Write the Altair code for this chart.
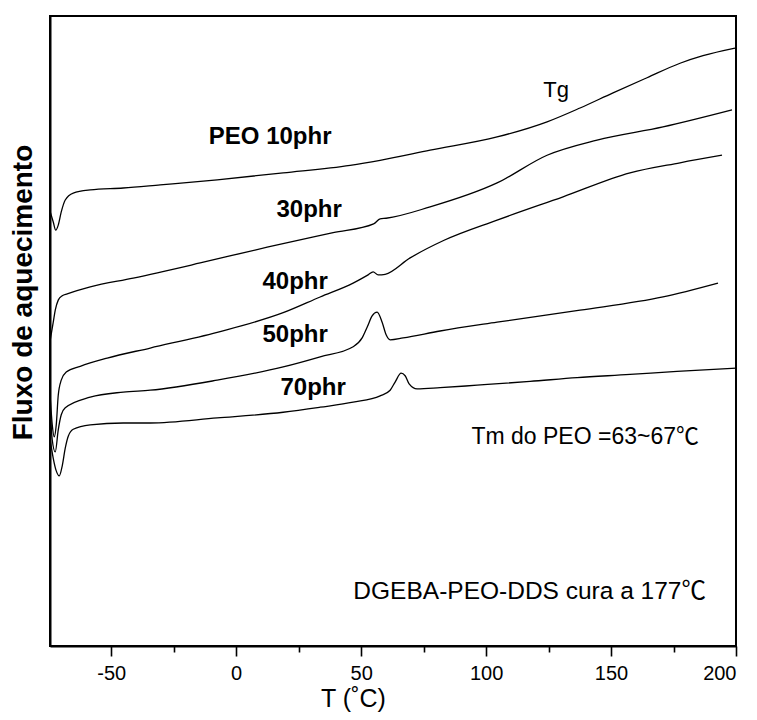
import altair as alt
import pandas as pd

# --- data (T in °C, heat flow in arbitrary units) ---
T_10 = [-74.4, -73.2, -72.2, -71.2, -70.0, -68.4, -65.2, -58.4, -45.2, -30.4, -7.6, 18.8, 45.6, 57.6, 77.6, 104.4, 124.4, 137.6, 150.8, 164.4, 177.6, 186.8, 199.6]
Y_10 = [68.9, 67.3, 66.0, 66.8, 68.9, 70.8, 71.9, 72.4, 72.7, 73.2, 74.0, 75.1, 76.3, 77.1, 78.7, 80.8, 83.2, 85.4, 87.8, 90.2, 92.5, 93.7, 94.9]

T_30 = [-74.4, -73.2, -72.4, -71.2, -69.6, -67.6, -58.4, -41.2, -14.4, 12.4, 38.8, 55.0, 57.6, 60.0, 77.6, 104.4, 124.4, 144.4, 170.8, 198.4]
Y_30 = [48.6, 51.4, 53.3, 54.9, 55.6, 55.9, 57.0, 58.4, 60.8, 63.3, 65.6, 67.0, 67.8, 67.9, 69.7, 73.5, 77.9, 80.3, 82.4, 85.1]

T_40 = [-74.4, -73.6, -72.8, -72.0, -71.2, -70.0, -68.0, -62.4, -51.6, -34.4, -7.6, 18.8, 33.6, 46.8, 52.8, 54.8, 56.8, 59.6, 69.6, 83.2, 104.4, 130.8, 157.6, 177.6, 194.4]
Y_40 = [39.4, 35.1, 33.2, 35.1, 39.8, 42.2, 43.5, 44.4, 45.7, 47.3, 49.8, 52.9, 55.4, 57.6, 58.9, 59.4, 58.9, 59.0, 61.6, 64.4, 67.6, 71.3, 75.1, 76.7, 77.9]

T_50 = [-74.4, -73.6, -72.4, -71.2, -70.0, -68.4, -58.4, -45.2, -34.4, -7.6, 18.8, 33.6, 46.8, 50.4, 52.4, 54.4, 56.4, 58.4, 60.0, 61.6, 66.8, 81.6, 104.4, 137.6, 170.8, 192.8]
Y_50 = [37.5, 32.7, 30.8, 34.3, 36.7, 37.8, 39.5, 40.3, 40.6, 42.2, 44.3, 45.9, 47.5, 48.9, 50.6, 52.4, 53.0, 51.4, 49.4, 48.6, 48.9, 50.0, 51.4, 53.3, 55.4, 57.6]

T_70 = [-74.4, -73.2, -72.0, -70.8, -69.6, -68.4, -67.2, -65.2, -58.4, -45.2, -34.4, -7.6, 18.8, 33.6, 46.8, 57.6, 61.6, 63.6, 66.0, 67.6, 69.2, 72.4, 81.6, 96.4, 117.6, 136.4, 157.6, 176.4, 200.0]
Y_70 = [32.7, 29.8, 27.8, 27.0, 28.6, 31.4, 33.3, 34.4, 35.1, 35.4, 35.4, 36.2, 37.1, 37.9, 38.7, 39.7, 40.6, 41.9, 43.3, 42.9, 41.6, 40.8, 41.0, 41.4, 42.0, 42.6, 43.1, 43.6, 44.1]

series_names = ["PEO 10phr", "30phr", "40phr", "50phr", "70phr"]
series_T = [T_10, T_30, T_40, T_50, T_70]
series_Y = [Y_10, Y_30, Y_40, Y_50, Y_70]

# curve labels
label_text = ["PEO 10phr", "30phr", "40phr", "50phr", "70phr"]
label_T = [13.6, 29.2, 23.6, 23.6, 30.8]
label_Y = [80.8, 69.2, 57.8, 49.4, 41.0]

tg_text = ["Tg"]
tg_T = [128.0]
tg_Y = [88.3]

note1_text = ["Tm do PEO =63~67\u2103"]
note1_T = [185.2]
note1_Y = [33.2]

note2_text = ["DGEBA-PEO-DDS cura a 177\u2103"]
note2_T = [188.0]
note2_Y = [8.6]

x_tick_values = [-50, -25, 0, 25, 50, 75, 100, 125, 150, 175, 200]

rows = []
for name, ts, ys in zip(series_names, series_T, series_Y):
    for t, y in zip(ts, ys):
        rows.append({"serie": name, "T": t, "Y": y})
df = pd.DataFrame(rows)

df_lab = pd.DataFrame({"text": label_text, "T": label_T, "Y": label_Y})
df_tg = pd.DataFrame({"text": tg_text, "T": tg_T, "Y": tg_Y})
df_n1 = pd.DataFrame({"text": note1_text, "T": note1_T, "Y": note1_Y})
df_n2 = pd.DataFrame({"text": note2_text, "T": note2_T, "Y": note2_Y})

FONT = "Liberation Sans, Arial, Noto Sans CJK SC, sans-serif"

x_scale = alt.Scale(domain=[-74.5, 200], nice=False, zero=False)
y_scale = alt.Scale(domain=[0, 100], nice=False, zero=False)

x_axis = alt.Axis(
    title="T (\u02daC)",
    values=x_tick_values,
    labelExpr="datum.value % 50 == 0 ? '' + datum.value : ''",
    grid=False,
    domainColor="black",
    domainWidth=2,
    tickColor="black",
    tickWidth=1.6,
    tickSize={"condition": {"test": "datum.value % 50 == 0", "value": 10}, "value": 6},
    labelFont=FONT,
    labelFontSize=20,
    labelColor="black",
    labelPadding=7,
    labelFlush=True,
    titleFont=FONT,
    titleFontSize=25,
    titleFontWeight="normal",
    titleColor="black",
    titleX=303,
    titleY=52,
    titleAlign="center",
    titleBaseline="middle",
)

y_axis = alt.Axis(
    title="Fluxo de aquecimento",
    labels=False,
    ticks=False,
    grid=False,
    domainColor="black",
    domainWidth=2,
    titleFont=FONT,
    titleFontSize=28,
    titleFontWeight="bold",
    titleColor="black",
    titleX=-27,
    titleY=276,
    titleAlign="center",
    titleBaseline="middle",
    titleAngle=270,
)

lines = alt.Chart(df).mark_line(color="black", strokeWidth=1.3, interpolate="monotone").encode(
    x=alt.X("T:Q", scale=x_scale, axis=x_axis),
    y=alt.Y("Y:Q", scale=y_scale, axis=y_axis),
    detail="serie:N",
)

labels = alt.Chart(df_lab).mark_text(
    font=FONT, fontSize=24, fontWeight="bold", color="black", align="center", baseline="middle"
).encode(x=alt.X("T:Q", scale=x_scale), y=alt.Y("Y:Q", scale=y_scale), text="text:N")

tg = alt.Chart(df_tg).mark_text(
    font=FONT, fontSize=22, color="black", align="center", baseline="middle"
).encode(x=alt.X("T:Q", scale=x_scale), y=alt.Y("Y:Q", scale=y_scale), text="text:N")

note1 = alt.Chart(df_n1).mark_text(
    font=FONT, fontSize=23, color="black", align="right", baseline="middle"
).encode(x=alt.X("T:Q", scale=x_scale), y=alt.Y("Y:Q", scale=y_scale), text="text:N")

note2 = alt.Chart(df_n2).mark_text(
    font=FONT, fontSize=24.5, color="black", align="right", baseline="middle"
).encode(x=alt.X("T:Q", scale=x_scale), y=alt.Y("Y:Q", scale=y_scale), text="text:N")

chart = alt.layer(lines, labels, tg, note1, note2).properties(
    width=686,
    height=630,
    autosize=alt.AutoSizeParams(type="none"),
    padding={"left": 42, "top": 8, "right": 11, "bottom": 66},
    background="white",
).configure_view(stroke="black", strokeWidth=2)

chart.save("out.html", embed_options={"renderer": "svg", "actions": False})
